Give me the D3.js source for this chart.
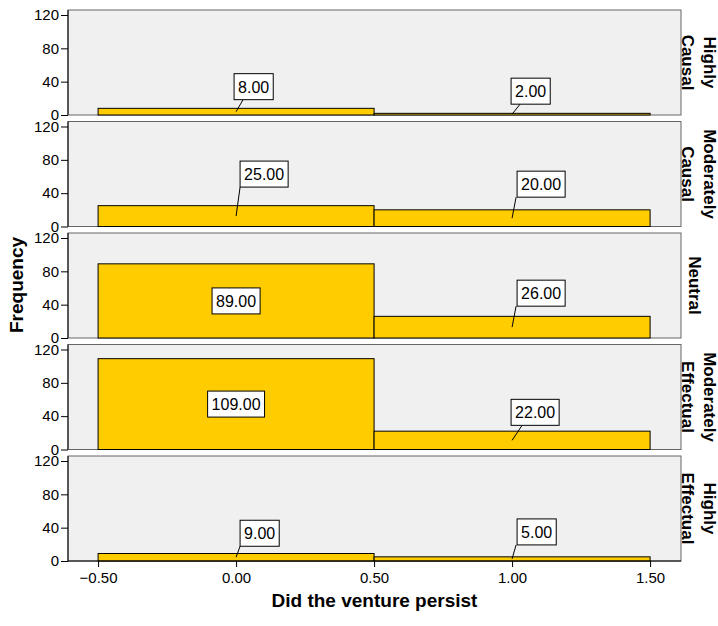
<!DOCTYPE html>
<html><head><meta charset="utf-8">
<script src="https://cdn.jsdelivr.net/npm/d3@7"></script>
<style>body{margin:0;background:#fff}svg{display:block;font-family:Arial,"Liberation Sans",sans-serif}</style>
</head><body><svg id="c" width="718" height="626"></svg>
<script>
// ---- data ----
const panels = [["Highly","Causal"],["Moderately","Causal"],["Neutral"],["Moderately","Effectual"],["Highly","Effectual"]];
const categories = [0, 1];
const countsPersist0 = [8, 25, 89, 109, 9];
const countsPersist1 = [2, 20, 26, 22, 5];
const yTicks = [0, 40, 80, 120];
const xTicks = [-0.5, 0, 0.5, 1, 1.5];

// ---- layout (label placement, px) ----
const labelLayout = [
  [{bdx:-2,bby:12,ldx:7},{bdx:-1,bby:10,ldx:8}],
  [{bdx:4,bby:29,ldx:4},{bdx:5,bby:21,ldx:4}],
  [{inside:true},{bdx:5,bby:21,ldx:4}],
  [{inside:true},{bdx:-1,bby:15,ldx:10}],
  [{bdx:4,bby:11,ldx:4},{bdx:5,bby:14,ldx:4}]
];

const svg = d3.select("#c");
const pLeft = 68, pRight = 681, pTop = 10, pBottom = 561;
const nP = panels.length, gap = 6.5;
const ph = (pBottom - pTop - gap*(nP-1)) / nP;

const x = d3.scaleLinear().domain([-0.609, 1.612]).range([pLeft, pRight]);
const values = [countsPersist0, countsPersist1];

panels.forEach((name, i) => {
  const y0 = pTop + i*(ph+gap);
  const y = d3.scaleLinear().domain([0, 126]).range([y0+ph, y0]);
  const g = svg.append("g");
  g.append("rect").attr("x", pLeft).attr("y", y0).attr("width", pRight-pLeft).attr("height", ph)
    .attr("fill", "#f0f0f0").attr("stroke", "#666").attr("stroke-width", 1);
  categories.forEach((c, k) => {
    const v = values[k][i];
    g.append("rect").attr("x", x(c-0.5)).attr("y", y(v)).attr("width", x(c+0.5)-x(c-0.5))
      .attr("height", y(0)-y(v)).attr("fill", "#ffcc00").attr("stroke", "#000").attr("stroke-width", 1);
  });
  const ax = g.append("g").attr("transform", `translate(${pLeft},0)`)
    .call(d3.axisLeft(y).tickValues(yTicks).tickSize(7).tickPadding(2).tickSizeOuter(0));
  ax.select(".domain").attr("d", `M0,${y0}V${y0+ph}`).attr("stroke", "#000");
  ax.selectAll("line").attr("stroke", "#000");
  ax.selectAll("text").attr("font-size", 15).attr("fill", "#000").attr("font-family", "Arial, Liberation Sans, sans-serif");
  categories.forEach((c, k) => {
    const v = values[k][i];
    const L = labelLayout[i][k];
    const txt = v.toFixed(2);
    const cx = x(c);
    const mid = (y(v)+y(0))/2;
    const lg = g.append("g");
    const t = lg.append("text").attr("font-size", 16).text(txt).attr("fill", "#000");
    const tw = t.node().getComputedTextLength();
    const bw = tw + 8, bh = 26;
    let bx, by;
    if (L.inside) { bx = cx - bw/2; by = mid - bh/2; }
    else {
      bx = cx + L.bdx; by = mid - L.bby - bh;
      lg.insert("line", "text").attr("x1", cx).attr("y1", mid).attr("x2", cx+L.ldx).attr("y2", by+bh)
        .attr("stroke", "#000").attr("stroke-width", 1);
    }
    lg.insert("rect", "text").attr("x", bx).attr("y", by).attr("width", bw).attr("height", bh)
      .attr("fill", "#fff").attr("stroke", "#000").attr("stroke-width", 1);
    t.attr("x", bx + bw/2).attr("y", by + bh/2 + 6).attr("text-anchor", "middle");
  });
  const n = name.length;
  const sl = g.append("text").attr("transform", `translate(${pRight},${y0+ph/2}) rotate(90)`)
    .attr("font-size", 17).attr("font-weight", "bold").attr("text-anchor", "middle");
  const baseXs = n === 1 ? [8] : [23, 1];
  name.forEach((ln, j) => {
    sl.append("tspan").attr("x", 0).attr("y", -baseXs[j]).text(ln);
  });
});

const xa = svg.append("g").attr("transform", `translate(0,${pBottom})`)
  .call(d3.axisBottom(x).tickValues(xTicks).tickFormat(d3.format(".2f")).tickSize(6).tickPadding(5).tickSizeOuter(0));
xa.select(".domain").attr("d", `M${pLeft},0H${pRight}`).attr("stroke", "#000");
xa.selectAll("line").attr("stroke", "#000");
xa.selectAll("text").attr("font-size", 15).attr("fill", "#000").attr("font-family", "Arial, Liberation Sans, sans-serif");

svg.append("text").attr("x", (pLeft+pRight)/2).attr("y", 607).attr("text-anchor", "middle")
  .attr("font-size", 19).attr("font-weight", "bold").text("Did the venture persist");
svg.append("text").attr("transform", `translate(23,285) rotate(-90)`).attr("text-anchor", "middle")
  .attr("font-size", 19).attr("font-weight", "bold").text("Frequency");
</script></body></html>
